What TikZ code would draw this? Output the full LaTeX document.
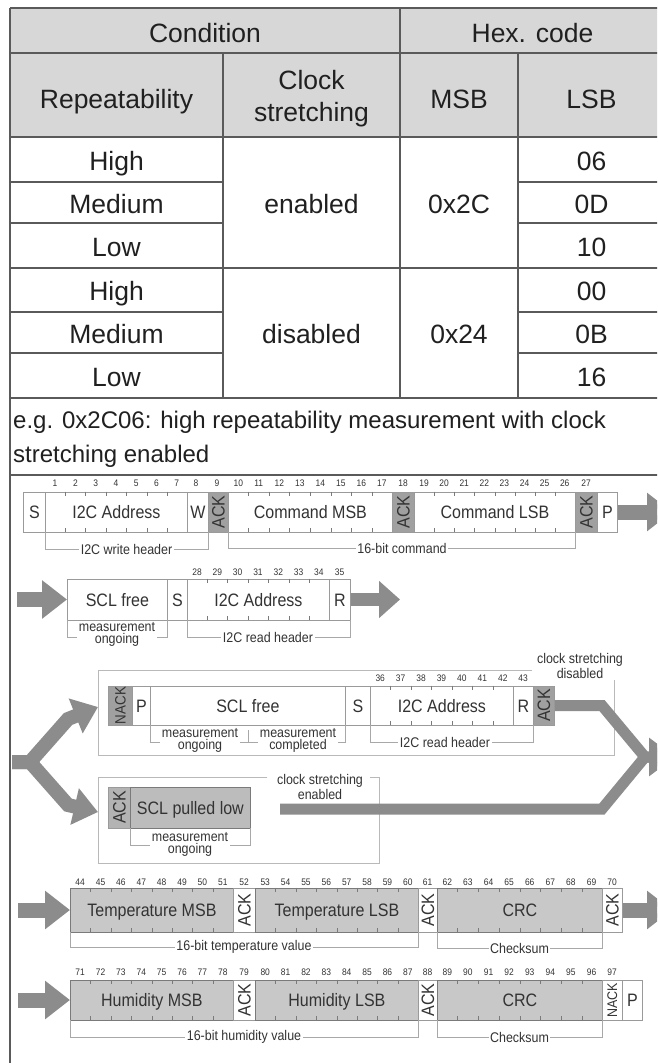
\documentclass[tikz,border=0pt]{standalone}
\usepackage{fontspec}
\setmainfont{Liberation Sans}
\newfontfamily\dfont{Liberation Sans}[FakeStretch=0.89]
\usepackage{graphicx}
\usetikzlibrary{arrows.meta,calc}
\definecolor{tline}{HTML}{5A5A5A}
\definecolor{thead}{HTML}{D7D7D7}
\definecolor{ttext}{HTML}{202020}
\definecolor{dtext}{HTML}{333333}
\definecolor{fline}{HTML}{9A9A9A}
\definecolor{gline}{HTML}{7A7A7A}
\definecolor{dfill}{HTML}{C8C8C8}
\definecolor{afill}{HTML}{A0A0A0}
\definecolor{sfill}{HTML}{BCBCBC}
\definecolor{arr}{HTML}{8C8C8C}
\definecolor{brk}{HTML}{A8A8A8}
\newcommand\fticks[3]{\foreach \k in {1,...,#3}{\draw[tick] ($(#1.north west)!{\k/#2}!(#1.north east)$) -- ++(0,4) ($(#1.south west)!{\k/#2}!(#1.south east)$) -- ++(0,-4);}}
\begin{document}
\begin{tikzpicture}[x=1pt,y=-1pt,
 tgrid/.style={draw=tline, line width=2.2},
 tcell/.style={text=ttext, font=\fontsize{26.5}{32}\selectfont, align=center, inner sep=0, anchor=base},
 egtext/.style={text=ttext, font=\fontsize{24}{34}\selectfont, align=left, inner sep=0, anchor=north west},
 fldbase/.style={draw=fline, line width=0.8, fill=white, inner sep=0, text=dtext, font=\dfont\fontsize{18}{20}\selectfont, anchor=west},
 fld/.style={fldbase, text height=13, text depth=0},
 gfld/.style={fld, fill=dfill, draw=gline},
 ackw/.style={fldbase},
 ackg/.style={fldbase, fill=afill},
 bitnum/.style={text=dtext, font=\dfont\fontsize{9.5}{10}\selectfont, inner sep=0},
 lbl/.style={text=dtext, font=\dfont\fontsize{14}{12}\selectfont, fill=white, inner sep=1.5, align=center},
 brack/.style={draw=brk, line width=0.8},
 grpframe/.style={draw=brk!80, line width=0.9},
 tick/.style={draw=gline, line width=0.8},
 bigarrow/.style={draw=arr, line width=15, -{Triangle[length=25pt 0 1, width=37pt 0 1]}},
 medarrow/.style={draw=arr, line width=13, -{Triangle[length=21pt 0 1, width=36pt 0 1]}},
 band/.style={draw=arr, line width=11, line join=miter},
]
\useasboundingbox (0,0) rectangle (657,1063);
\clip (0,0) rectangle (657,1063);
\fill[white] (0,0) rectangle (657,1063);
% ---------------- table ----------------
\fill[thead] (10,8) rectangle (665,137);
\draw[tgrid] (10,8) -- (665,8) (10,53) -- (665,53) (10,137) -- (665,137)
  (10,268) -- (665,268) (10,398) -- (665,398) (10,475) -- (665,475);
\draw[tgrid] (10,8) -- (10,1063) (400,8) -- (400,398) (223,53) -- (223,398) (518,53) -- (518,398);
\foreach \yy in {182,223,312,353} \draw[tgrid] (10,\yy) -- (223,\yy) (518,\yy) -- (665,\yy);
\node[tcell] (hcond) at (205,42) {Condition};
\node[tcell] (hhex) at (532.5,42) {Hex. code};
\node[tcell] (hrep) at (116.5,108) {Repeatability};
\node[tcell, anchor=north] (hclk) at (311.5,70.5) {Clock\\stretching};
\node[tcell] (hmsb) at (459,108) {MSB};
\node[tcell] (hlsb) at (591.5,108) {LSB};
\node[tcell] (r1) at (116.5,170) {High};
\node[tcell] (r2) at (116.5,213) {Medium};
\node[tcell] (r3) at (116.5,256) {Low};
\node[tcell] (r4) at (116.5,300) {High};
\node[tcell] (r5) at (116.5,343) {Medium};
\node[tcell] (r6) at (116.5,386) {Low};
\node[tcell] (l1) at (591.5,170) {06};
\node[tcell] (l2) at (591.5,213) {0D};
\node[tcell] (l3) at (591.5,256) {10};
\node[tcell] (l4) at (591.5,300) {00};
\node[tcell] (l5) at (591.5,343) {0B};
\node[tcell] (l6) at (591.5,386) {16};
\node[tcell] (cen) at (311.5,213) {enabled};
\node[tcell] (cdis) at (311.5,343) {disabled};
\node[tcell] (m2c) at (459,213) {0x2C};
\node[tcell] (m24) at (459,343) {0x24};
\node[egtext] (eg) at (13,410.5) {e.g. 0x2C06: high repeatability measurement with clock\\stretching enabled};
% ---------------- row A ----------------
\node[fld, minimum width=22, minimum height=40] (sA) at (23,512) {S};
\node[fld, minimum width=142, minimum height=40] (adrA) at (45,512) {I2C Address};
\node[fld, minimum width=21, minimum height=40] (wA) at (187,512) {W};
\node[ackg, minimum width=20, minimum height=40] (ack1A) at (208,512) {\rotatebox{90}{ACK}};
\node[fld, minimum width=164, minimum height=40] (cmA) at (228,512) {Command MSB};
\node[ackg, minimum width=22, minimum height=40] (ack2A) at (392,512) {\rotatebox{90}{ACK}};
\node[fld, minimum width=161, minimum height=40] (clA) at (414,512) {Command LSB};
\node[ackg, minimum width=22, minimum height=40] (ack3A) at (575,512) {\rotatebox{90}{ACK}};
\node[fld, minimum width=20, minimum height=40] (pA) at (597,512) {P};
\fticks{adrA}{7}{6}\fticks{cmA}{8}{7}\fticks{clA}{8}{7}
\foreach \n [count=\k from 0] in {1,...,7} \node[bitnum] (nA\n) at ({55.1+20.29*\k},483) {\n};
\node[bitnum] (nA8) at (196,483) {8};
\node[bitnum] (nA9) at (217,483) {9};
\foreach \n [count=\k from 0] in {10,...,17} \node[bitnum] (nA\n) at ({238.3+20.5*\k},483) {\n};
\node[bitnum] (nA18) at (403,483) {18};
\foreach \n [count=\k from 0] in {19,...,26} \node[bitnum] (nA\n) at ({424+20.1*\k},483) {\n};
\node[bitnum] (nA27) at (586,483) {27};
\coordinate (aAend) at (672,512);
\draw[bigarrow] (pA.east) -- (aAend);
\draw[brack] (adrA.south west) -- ++(0,17) -| (wA.south east);
\node[lbl] (lA1) at (126.5,549) {I2C write header};
\draw[brack] (cmA.south west) -- ++(0,16) -| (clA.south east);
\node[lbl] (lA2) at (402,548) {16-bit command};
% ---------------- row B ----------------
\node[fld, minimum width=100, minimum height=41] (sfB) at (67,599.5) {SCL free};
\node[fld, minimum width=20, minimum height=41] (sB) at (167,599.5) {S};
\node[fld, minimum width=142, minimum height=41] (adrB) at (187,599.5) {I2C Address};
\node[fld, minimum width=21, minimum height=41] (rB) at (329,599.5) {R};
\fticks{adrB}{7}{6}
\foreach \n [count=\k from 0] in {28,...,34} \node[bitnum] (nB\n) at ({197.1+20.29*\k},572) {\n};
\node[bitnum] (nB35) at (339.5,572) {35};
\coordinate (aBstart) at (17,599.5);
\draw[bigarrow] (aBstart) -- (sfB.west);
\coordinate (aBend) at (400,599.5);
\draw[medarrow] (rB.east) -- (aBend);
\draw[brack] (sfB.south west) -- ++(0,17) -| (sfB.south east);
\node[lbl] (lB1) at (117,634) {measurement\\ongoing};
\draw[brack] (adrB.south west) -- ++(0,17) -| (rB.south east);
\node[lbl] (lB2) at (268,637) {I2C read header};
% ---------------- row C ----------------
\draw[grpframe] (532,670) -- (98,670) -- (98,755) -- (614,755) -- (614,680);
\node[lbl, fill=none] (csd) at (580,666) {clock stretching\\disabled};
\node[ackg, minimum width=24, minimum height=39] (nackC) at (108,705.5) {\rotatebox{90}{\fontsize{15}{16}\selectfont NACK}};
\node[fld, minimum width=18, minimum height=39] (pC) at (132,705.5) {P};
\node[fld, minimum width=195, minimum height=39] (sfC) at (150,705.5) {SCL free};
\node[fld, minimum width=25, minimum height=39] (sC) at (345,705.5) {S};
\node[fld, minimum width=143, minimum height=39] (adrC) at (370,705.5) {I2C Address};
\node[fld, minimum width=20, minimum height=39] (rC) at (513,705.5) {R};
\node[ackg, minimum width=21, minimum height=39] (ackC) at (533,705.5) {\rotatebox{90}{ACK}};
\fticks{adrC}{7}{6}
\foreach \n [count=\k from 0] in {36,...,42} \node[bitnum] (nC\n) at ({380.2+20.43*\k},678) {\n};
\node[bitnum] (nC43) at (523,678) {43};
\draw[brack] (sfC.south west) -- ++(0,17) -| (sfC.south east);
\draw[brack] (248,730) -- (248,742);
\node[lbl] (lC1) at (200,740) {measurement\\ongoing};
\node[lbl] (lC2) at (298,740) {measurement\\completed};
\draw[brack] (adrC.south west) -- ++(0,17) -| (rC.south east);
\node[lbl] (lC3) at (445,742) {I2C read header};
% ---------------- row D ----------------
\draw[grpframe] (267,777) -- (98,777) -- (98,863) -- (379,863) -- (379,777) -- (370,777);
\node[lbl, fill=none] (cse) at (320,787) {clock stretching\\enabled};
\node[ackg, fill=afill!80!white, minimum width=22, minimum height=41] (ackD) at (108,807.5) {\rotatebox{90}{ACK}};
\node[fld, fill=sfill, draw=gline, minimum width=120, minimum height=41] (splD) at (130,807.5) {SCL pulled low};
\draw[brack] (splD.south west) -- ++(0,17) -| (splD.south east);
\node[lbl] (lD1) at (190,844) {measurement\\ongoing};
% ---------------- fork and merge ----------------
\coordinate (f0) at (12,762);
\coordinate (fC) at (98,707);
\coordinate (fD) at (98,812);
\draw[band, line width=14, -{Triangle[length=24pt 0 1, width=36pt 0 1]}] (f0) -- (30,762) -- (68,719) -- (fC);
\draw[band, line width=14, -{Triangle[length=24pt 0 1, width=36pt 0 1]}] (f0) -- (30,762) -- (68,805) -- (fD);
\coordinate (lowS) at (280,809);
\coordinate (mEnd) at (675,757);
\draw[band] (lowS) -- (602,809) -- (645,757) -- (662,757);
\draw[band, -{Triangle[length=26pt 0 1, width=37pt 0 1]}] (ackC.east) -- (602,705.5) -- (645,757) -- (mEnd);
% ---------------- row E ----------------
\node[gfld, minimum width=163, minimum height=44] (tmE) at (70,910) {Temperature MSB};
\node[ackw, minimum width=22, minimum height=44] (ack1E) at (233,910) {\rotatebox{90}{ACK}};
\node[gfld, minimum width=163, minimum height=44] (tlE) at (255,910) {Temperature LSB};
\node[ackw, minimum width=19, minimum height=44] (ack2E) at (418,910) {\rotatebox{90}{ACK}};
\node[gfld, minimum width=165, minimum height=44] (crcE) at (437,910) {CRC};
\node[ackw, minimum width=20, minimum height=44] (ack3E) at (602,910) {\rotatebox{90}{ACK}};
\fticks{tmE}{8}{7}\fticks{tlE}{8}{7}\fticks{crcE}{8}{7}
\foreach \n [count=\k from 0] in {44,...,51} \node[bitnum] (nE\n) at ({80.2+20.375*\k},882) {\n};
\node[bitnum] (nE52) at (244,882) {52};
\foreach \n [count=\k from 0] in {53,...,60} \node[bitnum] (nE\n) at ({265.2+20.375*\k},882) {\n};
\node[bitnum] (nE61) at (427.5,882) {61};
\foreach \n [count=\k from 0] in {62,...,69} \node[bitnum] (nE\n) at ({447.3+20.6*\k},882) {\n};
\node[bitnum] (nE70) at (612,882) {70};
\coordinate (aEstart) at (18,910);
\draw[bigarrow] (aEstart) -- (tmE.west);
\coordinate (aEend) at (672,910);
\draw[bigarrow] (ack3E.east) -- (aEend);
\draw[brack] (tmE.south west) -- ++(0,15) -| (tlE.south east);
\node[lbl] (lE1) at (244,947) {16-bit temperature value};
\draw[brack] (crcE.south west) -- ++(0,16) -| (crcE.south east);
\node[lbl] (lE2) at (519.5,948) {Checksum};
% ---------------- row F ----------------
\node[gfld, minimum width=163, minimum height=40] (hmF) at (70,1000) {Humidity MSB};
\node[ackw, minimum width=22, minimum height=40] (ack1F) at (233,1000) {\rotatebox{90}{ACK}};
\node[gfld, minimum width=163, minimum height=40] (hlF) at (255,1000) {Humidity LSB};
\node[ackw, minimum width=19, minimum height=40] (ack2F) at (418,1000) {\rotatebox{90}{ACK}};
\node[gfld, minimum width=165, minimum height=40] (crcF) at (437,1000) {CRC};
\node[ackw, minimum width=20, minimum height=40] (nackF) at (602,1000) {\rotatebox{90}{\fontsize{14}{15}\selectfont NACK}};
\node[fld, minimum width=20, minimum height=40] (pF) at (622,1000) {P};
\fticks{hmF}{8}{7}\fticks{hlF}{8}{7}\fticks{crcF}{8}{7}
\foreach \n [count=\k from 0] in {71,...,78} \node[bitnum] (nF\n) at ({80.2+20.375*\k},972) {\n};
\node[bitnum] (nF79) at (244,972) {79};
\foreach \n [count=\k from 0] in {80,...,87} \node[bitnum] (nF\n) at ({265.2+20.375*\k},972) {\n};
\node[bitnum] (nF88) at (427.5,972) {88};
\foreach \n [count=\k from 0] in {89,...,96} \node[bitnum] (nF\n) at ({447.3+20.6*\k},972) {\n};
\node[bitnum] (nF97) at (612,972) {97};
\coordinate (aFstart) at (18,1000);
\draw[bigarrow] (aFstart) -- (hmF.west);
\draw[brack] (hmF.south west) -- ++(0,17) -| (hlF.south east);
\node[lbl] (lF1) at (244,1037) {16-bit humidity value};
\draw[brack] (crcF.south west) -- ++(0,17) -| (crcF.south east);
\node[lbl] (lF2) at (519.5,1037) {Checksum};
\end{tikzpicture}
\end{document}
